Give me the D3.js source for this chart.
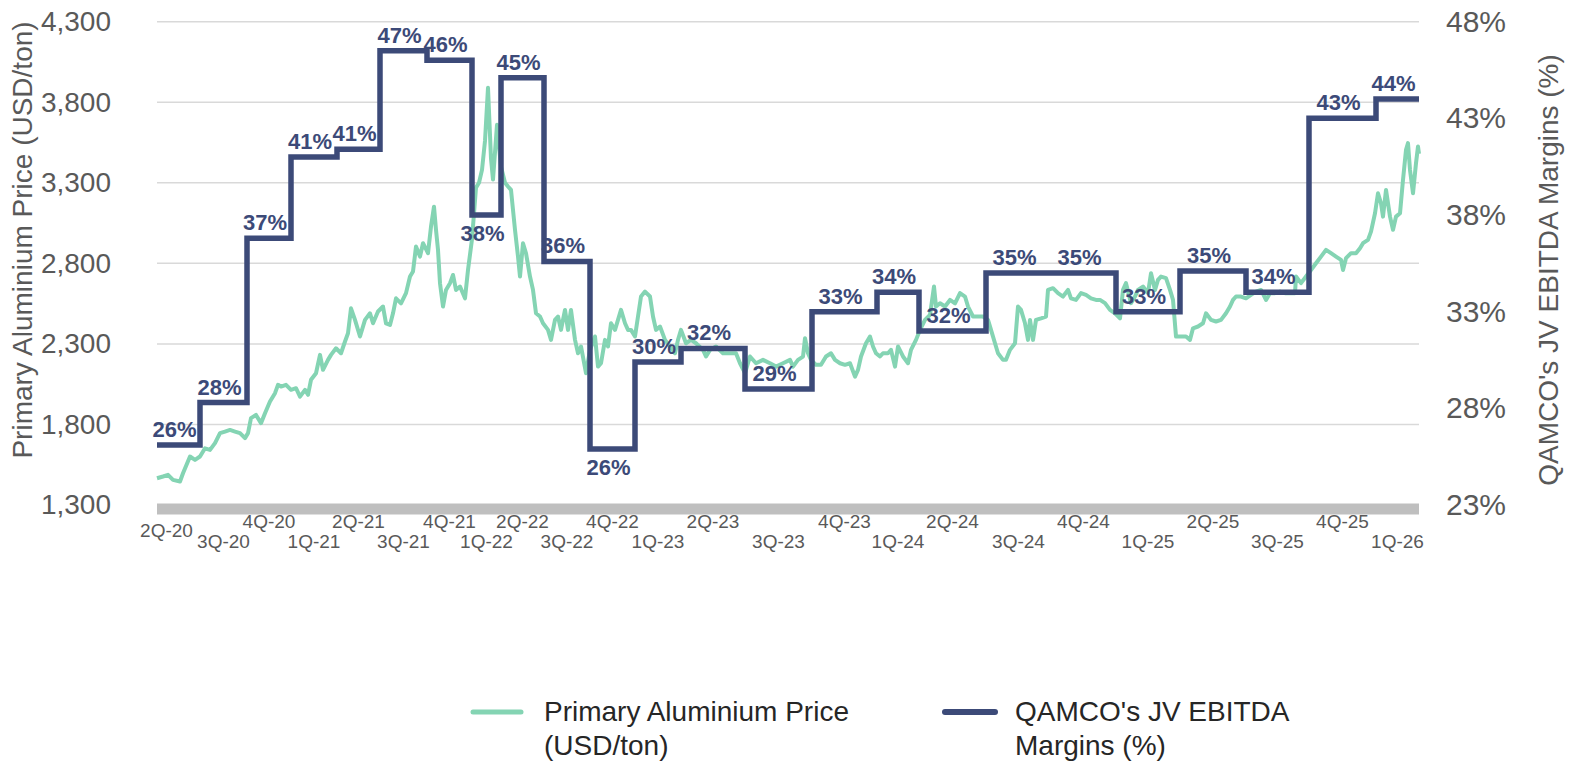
<!DOCTYPE html>
<html>
<head>
<meta charset="utf-8">
<script src="https://cdn.jsdelivr.net/npm/d3@7"></script>
<style>
  html, body { margin: 0; padding: 0; background: #fff; }
  svg { display: block; font-family: 'Liberation Sans', Arial, sans-serif; }
</style>
</head>
<body>
<div class="container"></div>
<script>
// quarters on the x axis and number of daily price observations in each
const quarters = ['2Q-20', '3Q-20', '4Q-20', '1Q-21', '2Q-21', '3Q-21', '4Q-21', '1Q-22',
  '2Q-22', '3Q-22', '4Q-22', '1Q-23', '2Q-23', '3Q-23', '4Q-23', '1Q-24', '2Q-24',
  '3Q-24', '4Q-24', '1Q-25', '2Q-25', '3Q-25', '4Q-25', '1Q-26']
const quarterDays = [43, 47, 44, 46, 43, 47, 45, 29, 43, 46, 45, 46, 64, 67, 65, 42, 67,
  65, 65, 64, 66, 63, 67, 43]

// QAMCO's JV EBITDA margin per quarter (%)
const margins = [26.1, 28.3, 36.8, 41.0, 41.4, 46.5, 46.0, 38.0, 45.1, 35.6, 25.9, 30.4,
  31.1, 29.0, 33.0, 34.0, 32.0, 35.0, 35.0, 33.0, 35.1, 34.0, 43.0, 44.0]
const marginLabels = ['26%', '28%', '37%', '41%', '41%', '47%', '46%', '38%', '45%', '36%',
  '26%', '30%', '32%', '29%', '33%', '34%', '32%', '35%', '35%', '33%', '35%', '34%',
  '43%', '44%']
const labelsBelow = ['1Q-22', '4Q-22']

const leftTicks = [1300, 1800, 2300, 2800, 3300, 3800, 4300]
const rightTicks = [23, 28, 33, 38, 43, 48]

// primary aluminium price (USD/ton): [observation index, price]
const price = [
  [0, 1466], [6, 1477], [11, 1487], [16, 1456], [23, 1446], [26, 1497], [33, 1601],
  [38, 1580], [43, 1601], [48, 1652], [53, 1642], [58, 1684], [63, 1746], [68, 1756],
  [73, 1766], [78, 1756], [83, 1746], [88, 1715], [91, 1746], [94, 1839], [99, 1859],
  [104, 1808], [108, 1870], [113, 1942], [118, 1994], [121, 2046], [124, 2035],
  [129, 2046], [134, 2015], [139, 2025], [143, 1973], [148, 2015], [151, 1984],
  [154, 2077], [159, 2118], [163, 2232], [166, 2139], [171, 2201], [174, 2232],
  [179, 2273], [184, 2242], [188, 2315], [191, 2366], [194, 2521], [198, 2449],
  [203, 2346], [208, 2449], [213, 2490], [216, 2428], [221, 2501], [226, 2532],
  [229, 2428], [233, 2418], [236, 2490], [239, 2583], [244, 2552], [249, 2615],
  [253, 2718], [256, 2749], [259, 2904], [263, 2842], [266, 2925], [271, 2863],
  [274, 3028], [277, 3152], [279, 3008], [281, 2884], [283, 2677], [286, 2532],
  [289, 2635], [293, 2677], [296, 2728], [299, 2635], [303, 2656], [308, 2583],
  [311, 2759], [315, 2950], [319, 3270], [322, 3300], [325, 3380], [328, 3560],
  [331, 3890], [334, 3450], [336, 3320], [340, 3660], [344, 3400], [348, 3300],
  [351, 3277], [354, 3256], [358, 3008], [361, 2842], [363, 2718], [366, 2925],
  [369, 2863], [373, 2718], [376, 2635], [379, 2490], [383, 2470], [386, 2428],
  [391, 2387], [394, 2325], [398, 2449], [401, 2470], [404, 2387], [408, 2511],
  [411, 2387], [414, 2511], [418, 2325], [421, 2242], [424, 2284], [429, 2118],
  [433, 2263], [438, 2346], [441, 2159], [444, 2180], [448, 2325], [451, 2284],
  [454, 2428], [458, 2387], [461, 2449], [464, 2511], [468, 2428], [471, 2387],
  [474, 2387], [478, 2346], [481, 2470], [484, 2594], [488, 2625], [493, 2594],
  [496, 2470], [499, 2387], [503, 2408], [508, 2325], [513, 2284], [518, 2242],
  [521, 2325], [524, 2387], [529, 2304], [534, 2325], [539, 2304], [546, 2263],
  [549, 2222], [553, 2263], [559, 2284], [566, 2242], [573, 2242], [579, 2242],
  [583, 2180], [588, 2118], [593, 2222], [599, 2180], [606, 2201], [613, 2180],
  [619, 2159], [626, 2180], [633, 2201], [636, 2159], [641, 2201], [646, 2221],
  [648, 2335], [651, 2242], [654, 2201], [659, 2170], [664, 2170], [669, 2222],
  [674, 2242], [678, 2201], [683, 2180], [688, 2170], [693, 2180], [698, 2097],
  [701, 2139], [704, 2222], [709, 2304], [713, 2346], [716, 2284], [719, 2242],
  [723, 2222], [726, 2242], [731, 2242], [734, 2263], [738, 2159], [741, 2284],
  [746, 2222], [751, 2180], [754, 2263], [759, 2325], [763, 2387], [768, 2449],
  [773, 2480], [777, 2656], [779, 2532], [783, 2552], [788, 2532], [793, 2573],
  [798, 2552], [803, 2615], [808, 2594], [811, 2532], [816, 2470], [821, 2470],
  [826, 2470], [831, 2449], [834, 2387], [838, 2304], [841, 2242], [846, 2201],
  [849, 2201], [853, 2263], [858, 2304], [861, 2532], [864, 2511], [868, 2428],
  [871, 2325], [873, 2449], [876, 2325], [879, 2449], [884, 2459], [889, 2470],
  [891, 2635], [896, 2646], [901, 2615], [906, 2594], [911, 2635], [914, 2583],
  [919, 2573], [924, 2615], [929, 2604], [934, 2583], [939, 2573], [943, 2573],
  [948, 2553], [953, 2511], [958, 2490], [963, 2459], [966, 2635], [969, 2677],
  [974, 2553], [978, 2594], [981, 2635], [986, 2656], [991, 2615], [994, 2739],
  [998, 2635], [1001, 2697], [1004, 2718], [1009, 2708], [1013, 2635], [1016, 2573],
  [1019, 2346], [1024, 2346], [1029, 2346], [1033, 2325], [1036, 2397], [1041, 2408],
  [1046, 2428], [1049, 2490], [1054, 2449], [1059, 2439], [1064, 2449], [1069, 2490],
  [1073, 2532], [1076, 2573], [1079, 2594], [1084, 2594], [1089, 2583], [1094, 2604],
  [1099, 2625], [1104, 2635], [1109, 2573], [1113, 2615], [1118, 2615], [1123, 2625],
  [1128, 2615], [1133, 2615], [1138, 2615], [1139, 2718], [1144, 2677], [1149, 2718],
  [1154, 2759], [1159, 2801], [1164, 2842], [1169, 2884], [1174, 2863], [1179, 2842],
  [1184, 2821], [1186, 2759], [1189, 2832], [1194, 2863], [1199, 2863], [1203, 2894],
  [1206, 2925], [1211, 2946], [1214, 2997], [1218, 3111], [1221, 3235], [1224, 3173],
  [1226, 3090], [1229, 3256], [1233, 3090], [1236, 3008], [1239, 3090], [1243, 3111],
  [1246, 3318], [1249, 3504], [1251, 3546], [1253, 3380], [1256, 3235], [1259, 3421],
  [1261, 3525], [1262, 3480]
]

const W = 1576
const H = 762
const plot = { left: 157, right: 1419, top: 21.7, bottom: 505 }
const green = '#84d4b3'
const navy = '#3c4a78'
const grey = '#595959'

const svg = d3
  .select('.container')
  .append('svg')
  .attr('width', W)
  .attr('height', H)

const starts = [0, ...d3.cumsum(quarterDays)]
const totalDays = starts[starts.length - 1]

const x = d3.scaleLinear().domain([0, totalDays]).range([plot.left, plot.right])
const yL = d3.scaleLinear().domain([1300, 4300]).range([plot.bottom, plot.top])
const yR = d3.scaleLinear().domain([23, 48]).range([plot.bottom, plot.top])

// gridlines
svg
  .append('g')
  .selectAll('line')
  .data(leftTicks.slice(1))
  .enter()
  .append('line')
  .attr('x1', plot.left)
  .attr('x2', plot.right)
  .attr('y1', (d) => yL(d))
  .attr('y2', (d) => yL(d))
  .attr('stroke', '#d9d9d9')
  .attr('stroke-width', 1.5)

// thick grey baseline
svg
  .append('line')
  .attr('x1', plot.left)
  .attr('x2', plot.right)
  .attr('y1', yL(1300) + 4)
  .attr('y2', yL(1300) + 4)
  .attr('stroke', '#bfbfbf')
  .attr('stroke-width', 11)

// left axis
const leftAxis = svg
  .append('g')
  .attr('transform', `translate(${plot.left},0)`)
  .call(
    d3.axisLeft(yL).tickValues(leftTicks).tickSize(0).tickPadding(46).tickFormat(d3.format(','))
  )
leftAxis.select('.domain').remove()
leftAxis.selectAll('text').attr('fill', grey).attr('font-size', 28).attr('font-family', null)

// right axis
const rightAxis = svg
  .append('g')
  .attr('transform', `translate(${plot.right},0)`)
  .call(
    d3.axisRight(yR).tickValues(rightTicks).tickSize(0).tickPadding(27).tickFormat((d) => d + '%')
  )
rightAxis.select('.domain').remove()
rightAxis.selectAll('text').attr('fill', grey).attr('font-size', 30).attr('font-family', null)

// axis titles
svg
  .append('text')
  .attr('transform', 'translate(32,240) rotate(-90)')
  .attr('text-anchor', 'middle')
  .attr('font-size', 28)
  .attr('fill', grey)
  .text('Primary Aluminium Price (USD/ton)')

svg
  .append('text')
  .attr('transform', 'translate(1558,270) rotate(-90)')
  .attr('text-anchor', 'middle')
  .attr('font-size', 28)
  .attr('fill', grey)
  .text("QAMCO's JV EBITDA Margins (%)")

// quarter labels, staggered
svg
  .append('g')
  .selectAll('text')
  .data(quarters)
  .enter()
  .append('text')
  .attr('x', (d, i) => x((starts[i] + starts[i + 1]) / 2) - (i === 0 ? 12 : 0))
  .attr('y', (d, i) => (i === 0 ? 537 : i % 2 ? 548 : 528))
  .attr('text-anchor', 'middle')
  .attr('font-size', 19)
  .attr('fill', grey)
  .text((d) => d)

// price line
const priceLine = d3
  .line()
  .x((d) => x(d[0]))
  .y((d) => yL(d[1]))

svg
  .append('path')
  .datum(price)
  .attr('d', priceLine)
  .attr('fill', 'none')
  .attr('stroke', green)
  .attr('stroke-width', 4)
  .attr('stroke-linejoin', 'round')

// EBITDA margin step line
const steps = margins.map((m, i) => [starts[i], m])
steps.push([totalDays, margins[margins.length - 1]])

const stepLine = d3
  .line()
  .curve(d3.curveStepAfter)
  .x((d) => x(d[0]))
  .y((d) => yR(d[1]))

svg
  .append('path')
  .datum(steps)
  .attr('d', stepLine)
  .attr('fill', 'none')
  .attr('stroke', navy)
  .attr('stroke-width', 5.5)
  .attr('stroke-linejoin', 'miter')

// data labels
svg
  .append('g')
  .selectAll('text')
  .data(margins)
  .enter()
  .append('text')
  .attr('x', (d, i) => x((starts[i] + starts[i + 1]) / 2) - 4)
  .attr('y', (d, i) => yR(d) + (labelsBelow.includes(quarters[i]) ? 26 : -8))
  .attr('text-anchor', 'middle')
  .attr('font-size', 22)
  .attr('font-weight', 'bold')
  .attr('fill', navy)
  .text((d, i) => marginLabels[i])

// legend
const legendItems = [
  { color: green, width: 5, x1: 473, x2: 521, tx: 544, lines: ['Primary Aluminium Price', '(USD/ton)'] },
  { color: navy, width: 6, x1: 945, x2: 995, tx: 1015, lines: ["QAMCO's JV EBITDA", 'Margins (%)'] },
]

const legend = svg
  .append('g')
  .selectAll('g')
  .data(legendItems)
  .enter()
  .append('g')

legend
  .append('line')
  .attr('x1', (d) => d.x1)
  .attr('x2', (d) => d.x2)
  .attr('y1', 712)
  .attr('y2', 712)
  .attr('stroke', (d) => d.color)
  .attr('stroke-width', (d) => d.width)
  .attr('stroke-linecap', 'round')

legend
  .append('text')
  .attr('font-size', 28)
  .attr('fill', '#262626')
  .selectAll('tspan')
  .data((d) => d.lines.map((t) => ({ t, x: d.tx })))
  .enter()
  .append('tspan')
  .attr('x', (d) => d.x)
  .attr('y', (d, i) => 721 + i * 34)
  .text((d) => d.t)
</script>
</body>
</html>
